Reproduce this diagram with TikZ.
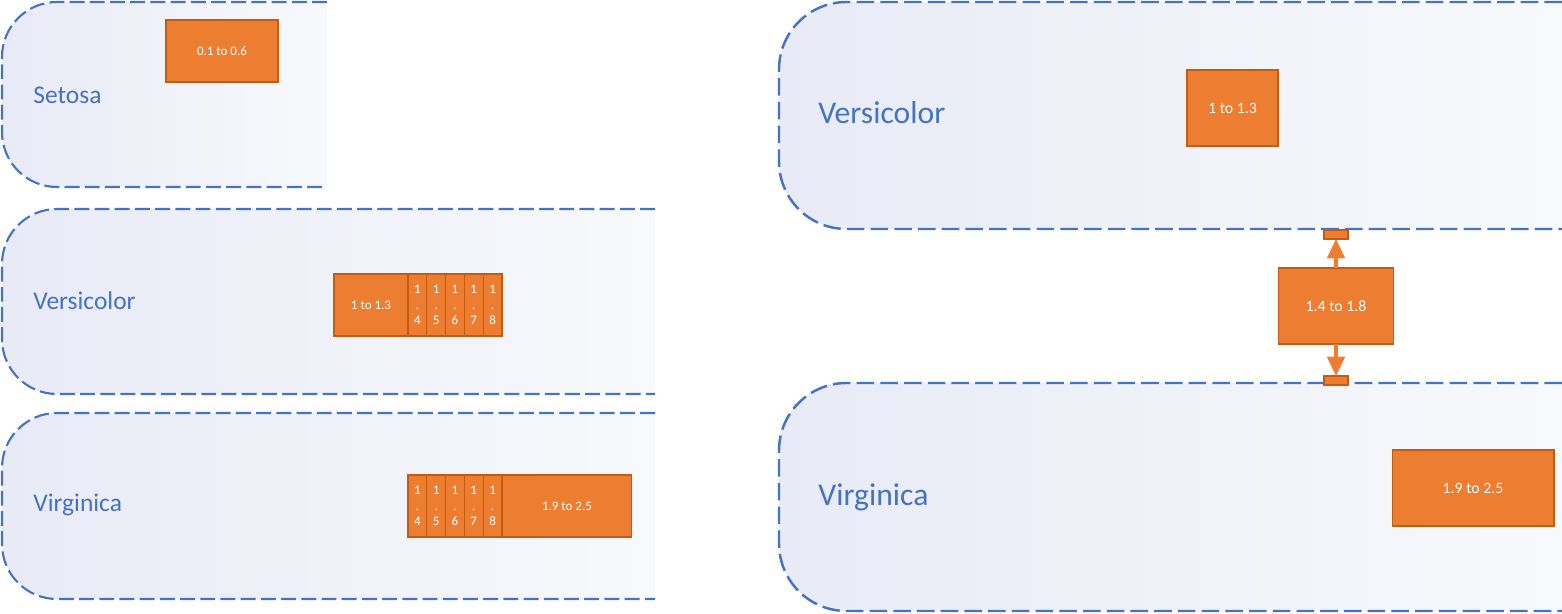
\documentclass[tikz,border=0pt]{standalone}
\usepackage{fontspec}
\setmainfont{Carlito}
\usetikzlibrary{arrows.meta,positioning}
\definecolor{bandline}{RGB}{68,114,196}
\definecolor{bandL}{RGB}{232,235,246}
\definecolor{bandR}{RGB}{248,249,252}
\definecolor{boxfill}{RGB}{237,125,49}
\definecolor{boxline}{RGB}{197,90,17}

\begin{document}
\begin{tikzpicture}[
  x=0.02cm, y=-0.02cm,
  band/.style={draw=bandline,line width=1.2pt,dash pattern=on 8.5pt off 3pt,left color=bandL,right color=bandR,rounded corners=1.1cm},
  bigband/.style={band,line width=1.4pt,dash pattern=on 10pt off 3.5pt,rounded corners=1.35cm},
  cls/.style={text=bandline,font=\fontsize{14.5}{17}\selectfont,anchor=west,inner sep=0pt},
  bigcls/.style={cls,font=\fontsize{18}{21}\selectfont},
  rangebox/.style={draw=boxline,fill=boxfill,text=white,line width=0.6pt,outer sep=0pt,align=center,font=\fontsize{7.4}{9}\selectfont,minimum height=1.24cm},
  cell/.style={rangebox,minimum width=0.376cm,inner sep=0pt},
  bigrange/.style={rangebox,font=\fontsize{9}{11}\selectfont,minimum height=1.52cm},
  tab/.style={draw=boxline,fill=boxfill,line width=0.6pt,minimum width=0.48cm,minimum height=0.18cm,inner sep=0pt,outer sep=0pt},
  arr/.style={-{Triangle[length=11pt,width=10pt]},draw=boxfill,line width=1.8pt}
]
  \useasboundingbox (0,0) rectangle (1562,614);
  % left column
  \path[band] (327,2) -- (2,2) -- (2,187) -- (327,187);
  \path[band] (655,209) -- (2,209) -- (2,394) -- (655,394);
  \path[band] (655,413) -- (2,413) -- (2,599) -- (655,599);
  \node[cls] (setosa) at (33,95) {Setosa};
  \node[rangebox,minimum width=2.24cm] (setosabox) at (222,51) {0.1 to 0.6};
  \node[cls] (vcleft) at (33,301) {Versicolor};
  \node[rangebox,minimum width=1.48cm] (vcmain) at (371,305) {1 to 1.3};
  \node[cell,right=0pt of vcmain] (vc4) {1\\.\\4};
  \foreach \d [remember=\d as \p (initially 4)] in {5,...,8}
    \node[cell,right=0pt of vc\p] (vc\d) {1\\.\\\d};
  \node[cls] (vgleft) at (33,505) {Virginica};
  \node[cell,anchor=north west] (vg4) at (408,475) {1\\.\\4};
  \foreach \d [remember=\d as \p (initially 4)] in {5,...,8}
    \node[cell,right=0pt of vg\p] (vg\d) {1\\.\\\d};
  \node[rangebox,minimum width=2.6cm,right=0pt of vg8] (vgmain) {1.9 to 2.5};
  % right column
  \path[bigband] (1562,2) -- (779,2) -- (779,229) -- (1562,229);
  \path[bigband] (1562,383) -- (779,383) -- (779,611) -- (1562,611);
  \node[bigcls] (vcright) at (818,113) {Versicolor};
  \node[bigrange,minimum width=1.82cm] (vcbox) at (1232.5,108) {1 to 1.3};
  \node[bigrange,minimum width=2.3cm] (overlap) at (1336,306) {1.4 to 1.8};
  \node[tab] (uptab) at (1336,234.5) {};
  \node[tab] (downtab) at (1336,380.5) {};
  \draw[arr] (overlap) -- (uptab);
  \draw[arr] (overlap) -- (downtab);
  \node[bigcls] (vgright) at (818,497) {Virginica};
  \node[bigrange,minimum width=3.24cm] (vgbox) at (1473,488) {1.9 to 2.5};
\end{tikzpicture}
\end{document}
